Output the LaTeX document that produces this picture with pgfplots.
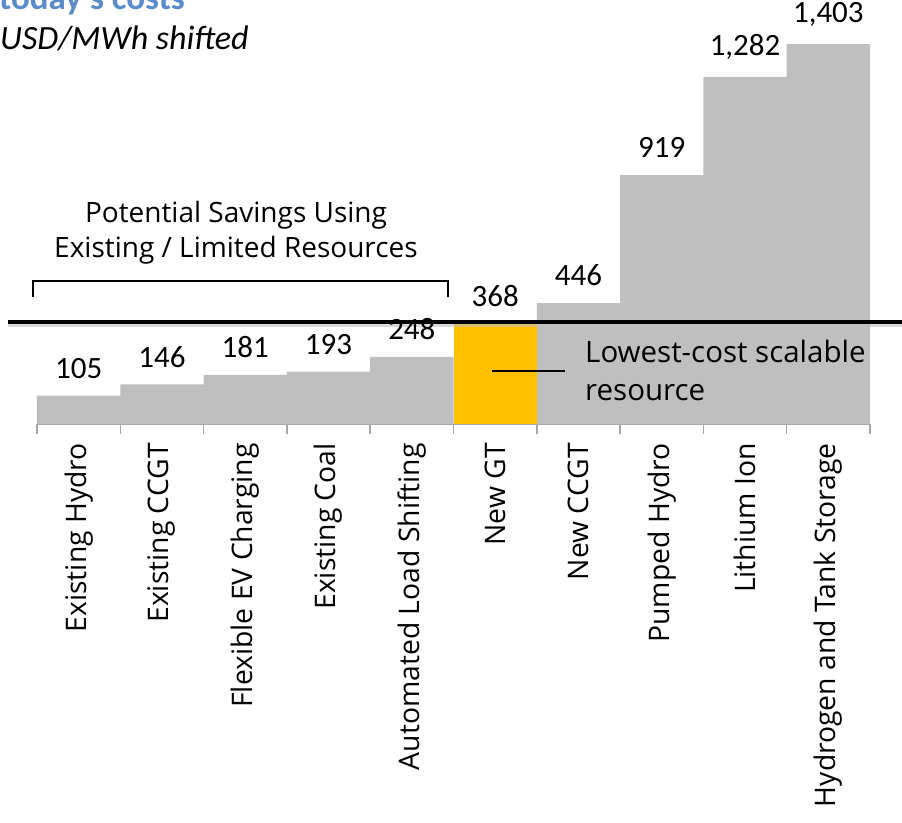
\documentclass[border=0pt]{standalone}
\usepackage{fontspec}
\setmainfont{Open Sans}
\newfontfamily\carlito{Carlito}
\usepackage{pgfplots}
\pgfplotsset{compat=1.18}
\usetikzlibrary{calc}
\definecolor{bargray}{HTML}{BFBFBF}
\definecolor{gtyellow}{HTML}{FFC000}
\definecolor{titleblue}{HTML}{5B8BC9}
\definecolor{axisgray}{HTML}{A6A6A6}

\begin{document}
\begin{tikzpicture}
\begin{axis}[
    scale only axis,
    width=833pt, height=380pt,
    xmin=-0.5, xmax=9.5,
    ymin=0, ymax=1403,
    axis x line*=bottom,
    axis y line=none,
    axis line style={axisgray, line width=2.5pt},
    xtick={0,...,9},
    xticklabels={Existing Hydro, Existing CCGT, Flexible EV Charging,
                 Existing Coal, Automated Load Shifting, New GT, New CCGT,
                 Pumped Hydro, Lithium Ion, Hydrogen and Tank Storage},
    xticklabel style={rotate=90, anchor=east, font=\fontsize{28.3}{28.3}\selectfont,
                      inner sep=0pt},
    xticklabel shift=19pt,
    major tick length=0pt,
    minor xtick={-0.5,0.5,...,9.5},
    minor tick length=10pt,
    tick align=outside,
    minor tick style={axisgray, line width=1.5pt},
    clip=false,
    nodes near coords,
    every node near coord/.append style={font=\carlito\fontsize{31}{31}\selectfont,
        inner sep=0pt, yshift=17pt, text=black},
    /pgf/number format/.cd, 1000 sep={,}, assume math mode=true,
]
\coordinate (O) at (rel axis cs:0,0);
% all resources but New GT
\addplot[ybar, bar width=1, fill=bargray, draw=none] coordinates {
    (0,105) (1,146) (2,181) (3,193) (4,248)
    (6,446) (7,919) (8,1282) (9,1403)
};
% lowest-cost scalable resource
\addplot[ybar, bar width=1, fill=gtyellow, draw=none] coordinates {(5,368)};
% threshold line at New GT cost
\draw[black!25, line width=3pt, opacity=0.6] (axis cs:-0.848,364) -- (axis cs:9.9,364);
\draw[black, line width=4.5pt] (axis cs:-0.848,376.5) -- (axis cs:9.9,376.5);
\end{axis}

\coordinate (TL) at ($(O)+(-37pt,424pt)$);
% bracket over existing resources
\draw[black, line width=1.6pt] ($(TL)+(33pt,-297pt)$) -- ($(TL)+(33pt,-281pt)$)
    -- ($(TL)+(448pt,-281pt)$) -- ($(TL)+(448pt,-297pt)$);
\node[anchor=base, font=\fontsize{28}{28}\selectfont, inner sep=0pt]
    at ($(TL)+(236pt,-223pt)$) {Potential Savings Using};
\node[anchor=base, font=\fontsize{28}{28}\selectfont, inner sep=0pt]
    at ($(TL)+(236pt,-258pt)$) {Existing / Limited Resources};
% callout
\draw[black, line width=1.6pt] ($(TL)+(492pt,-371pt)$) -- ($(TL)+(565pt,-371pt)$);
\node[anchor=base west, font=\fontsize{29.5}{29.5}\selectfont, inner sep=0pt]
    at ($(TL)+(585pt,-362pt)$) {Lowest-cost scalable};
\node[anchor=base west, font=\fontsize{29.5}{29.5}\selectfont, inner sep=0pt]
    at ($(TL)+(585pt,-400pt)$) {resource};
% title, cut at the top edge as in the original
\node[anchor=base west, font=\carlito\bfseries\fontsize{35}{35}\selectfont,
      text=titleblue, inner sep=0pt] at ($(TL)+(-1pt,-10pt)$) {today's costs};
\node[anchor=base west, font=\carlito\itshape\fontsize{34}{34}\selectfont, inner sep=0pt]
    at ($(TL)+(0pt,-50pt)$) {USD/MWh shifted};

\pgfresetboundingbox
\path[use as bounding box] (TL) rectangle ($(TL)+(902pt,-822pt)$);
\end{tikzpicture}
\end{document}
